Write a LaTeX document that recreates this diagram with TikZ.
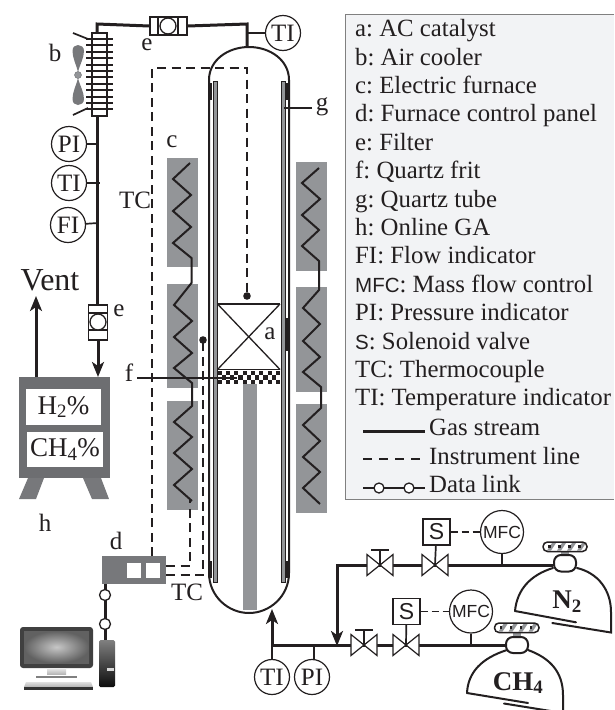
\documentclass[tikz,border=0pt]{standalone}
\usepackage{fontspec}
\setmainfont{Liberation Serif}
\setsansfont{Liberation Sans}
\usetikzlibrary{arrows.meta,calc}
\definecolor{blockgray}{HTML}{939598}
\definecolor{boxgray}{HTML}{6D6E71}
\definecolor{panelgray}{HTML}{77787B}
\definecolor{ink}{HTML}{231F20}
\definecolor{legendbg}{HTML}{F2F3F5}
\newcommand{\fs}[1]{\fontsize{#1}{#1}\selectfont}
\frenchspacing
\tikzset{
  every node/.style={text=ink},
  pipe/.style={line width=3pt,draw=ink},
  thinpipe/.style={line width=1.7pt,draw=ink},
  inst/.style={line width=2.1pt,draw=ink,dash pattern=on 9pt off 5.5pt},
  shortinst/.style={line width=1.7pt,draw=ink,dash pattern=on 7pt off 4pt},
  arrowed/.style={-{Stealth[length=15pt,width=12pt,inset=4pt]}},
  instr/.style={circle,draw=ink,fill=white,line width=1.2pt,minimum size=35pt,inner sep=0pt,font=\fs{25}},
  mfcnode/.style={circle,draw=ink,fill=white,line width=1.2pt,minimum size=43pt,inner sep=0pt,font=\sffamily\fs{17.5}},
  sbox/.style={rectangle,draw=ink,fill=white,line width=1.2pt,minimum width=27pt,minimum height=26pt,inner sep=0pt,font=\sffamily\fs{23}},
  lbl/.style={inner sep=0pt,font=\fs{25}},
  block/.style={fill=blockgray},
  coil/.style={line width=2pt,draw=ink,line join=miter},
  valve/.style={line width=1.2pt,draw=ink,fill=white},
  link/.style={circle,draw=ink,fill=white,line width=1.3pt,minimum size=11pt,inner sep=0pt},
  legtxt/.style={anchor=base west,inner sep=0pt,font=\fs{24.8}},
  bottle/.style={line width=2pt,draw=ink,line cap=round}
}
\begin{document}
\begin{tikzpicture}[x=1pt,y=-1pt]
\useasboundingbox (0,0) rectangle (614,710);
\fill[white] (0,0) rectangle (614,710);

% ---- legend
\fill[legendbg] (345,14) rectangle (614,499);
\draw[draw=gray,line width=1pt] (614,14) -- (345,14) -- (345,499) -- (614,499);
\foreach \t [count=\i from 0] in {
 {a: AC catalyst},{b: Air cooler},{c: Electric furnace},{d: Furnace control panel},
 {e: Filter},{f: Quartz frit},{g: Quartz tube},{h: Online GA},{FI: Flow indicator},
 {{\sffamily\fs{20.5}MFC}: Mass flow control},{PI: Pressure indicator},
 {{\sffamily\fs{20.5}S}: Solenoid valve},{TC: Thermocouple},{TI: Temperature indicator}}
  {\node[legtxt] (leg\i) at (355,{36.7+28.4*\i}) {\t};}
\node[legtxt] (leggas) at (429,435.7) {Gas stream};
\node[legtxt] (leginst) at (429,464.1) {Instrument line};
\node[legtxt] (legdata) at (429,492.5) {Data link};
\coordinate (lg1) at (363,431); \coordinate (lg2) at (425,431);
\draw[line width=3pt,draw=ink] (lg1) -- (lg2);
\coordinate (li1) at (363,459); \coordinate (li2) at (422,459);
\draw[line width=1.7pt,draw=ink,dash pattern=on 9pt off 7pt] (li1) -- (li2);
\coordinate (ld1) at (363,488); \coordinate (ld2) at (425,488);
\draw[line width=1.5pt,draw=ink] (ld1) -- (ld2);
\node[link,minimum size=10pt] at (379,488) {};
\node[link,minimum size=10pt] at (409,488) {};

% ---- furnace blocks
\foreach \x/\ya/\yb in {167/158/267,167/284/388,167/401/510,296/162/271,296/287/392,296/404/513}
  {\fill[block] (\x,\ya) rectangle (\x+31,\yb);}
\draw[coil] (190,163)--(173,179)--(191,195)--(173,211)--(191,227)--(173,243)--(191.5,258)--(191.5,283)
  --(174,305)--(192,321)--(174,337)--(192,353)--(174,368)--(192,383)--(192,406)--(174,422)--(192,437)
  --(174,453)--(192,469)--(174,485)--(192,501);
\draw[coil] (319,168)--(302,183)--(320,199)--(302,215)--(319,230)--(302,246)--(319,261)--(319,290)
  --(303,308)--(320,324)--(303,341)--(320,357)--(303,372)--(321,387)--(321,408)--(303,425)--(320,441)
  --(303,457)--(320,472)--(303,488)--(320,504);

% ---- reactor
\fill[block] (243,384) rectangle (257,610);
\draw[line width=2pt,draw=ink] (209,573) -- (209,80)
  .. controls (209,60) and (228,47) .. (249,47)
  .. controls (270,47) and (289,60) .. (289,80) -- (289,573)
  .. controls (289,596) and (270,613) .. (249,613)
  .. controls (228,613) and (209,596) .. (209,573) -- cycle;
\foreach \x in {213,281}
  {\filldraw[fill=blockgray,draw=ink,line width=.8pt] (\x,81) rectangle (\x+4.4,582);}
\foreach \x/\ya/\yb in {211/83/100,287/83/100,211/561/578,287/561/578,287.5/318/351}
  {\draw[line width=2.8pt,draw=ink] (\x,\ya) -- (\x,\yb);}
% catalyst bed
\draw[line width=1.9pt,draw=ink] (217.5,304) -- (280,304);
\draw[line width=1.9pt,draw=ink] (217.5,369.5) -- (280,369.5);
\draw[line width=1.3pt,draw=ink] (217.5,304) -- (280,369.5) (280,304) -- (217.5,369.5);
% frit
\fill[white] (217.5,371) rectangle (280,384);
\foreach \r in {0,1,2}{
  \foreach \c in {0,...,14}{
    \pgfmathtruncatemacro{\m}{mod(\r+\c,2)}
    \ifnum\m=0
      \fill[ink] ({217.5+4.17*\c},{371+4.33*\r}) rectangle ({217.5+4.17*(\c+1)},{371+4.33*(\r+1)});
    \fi
  }
}

% ---- TC lines
\coordinate (dot1) at (247,296);
\coordinate (dot2) at (203,340);
\coordinate (tcEnd) at (190,500);
\node[rectangle,fill=panelgray,minimum width=64pt,minimum height=28pt,inner sep=0pt] (panel) at (134,570) {};
\fill[white] (127,563) rectangle (141,578);
\fill[white] (146,563) rectangle (160,578);
\draw[inst] (152,556) -- (152,68) -- (247,68) -- (dot1);
\draw[inst] (166,575) -- (203,575) -- (dot2);
\draw[inst] (166,566) -- (190,566) -- (tcEnd);
\fill[ink] (dot1) circle (3.8pt);
\fill[ink] (dot2) circle (3.8pt);

% ---- outlet pipe, cooler
\node[rectangle,draw=ink,fill=white,line width=1.4pt,minimum width=37pt,minimum height=18pt,inner sep=0pt] (filt1) at (168.5,26) {};
\draw[line width=1.3pt,draw=ink] (158,17) -- (158,35) (178,17) -- (178,35);
\node[circle,draw=ink,fill=white,line width=1.3pt,minimum size=16pt,inner sep=0pt] (filt1c) at (168,26) {};
\coordinate (top) at (247,47);
\coordinate (teeT) at (247,33);
\node[rectangle,draw=ink,fill=white,line width=1.5pt,minimum width=15pt,minimum height=83pt,inner sep=0pt] (cooler) at (99.5,74.5) {};
\draw[pipe] (97,33) -- (97,24) -- (filt1.west);
\draw[pipe] (filt1.east) -- (247,24) -- (top);
\node[instr] (tiA) at (283,33) {TI};
\draw[thinpipe] (teeT) -- (tiA);
\foreach \k in {0,...,11}
  {\draw[line width=2pt,draw=ink] (86,{39+6.4*\k}) -- (113,{39+6.4*\k});}
\draw[line width=1.7pt,draw=ink] (73,33) -- (88,39) (73,115) -- (88,108);
% fan
\fill[panelgray] (78,72) .. controls (76,64) and (72.5,58) .. (72.5,51) .. controls (72.5,47) and (75,45) .. (78,45)
  .. controls (81,45) and (84,47) .. (84,51) .. controls (84,58) and (80,64) .. (78,72) -- cycle;
\fill[panelgray] (78,78) .. controls (76,86) and (72.5,92) .. (72.5,99) .. controls (72.5,103) and (75,105) .. (78,105)
  .. controls (81,105) and (84,103) .. (84,99) .. controls (84,92) and (80,86) .. (78,78) -- cycle;
\filldraw[fill=blockgray,draw=boxgray] (78,75) circle (3.5pt);

% ---- vertical line down, indicators
\node[rectangle,draw=ink,fill=white,line width=1.4pt,minimum width=19pt,minimum height=35pt,inner sep=0pt] (filt2) at (98,322.5) {};
\draw[line width=1.3pt,draw=ink] (89,313) -- (108,313) (89,330) -- (108,330);
\node[circle,draw=ink,fill=white,line width=1.3pt,minimum size=16pt,inner sep=0pt] at (98,322) {};
\draw[pipe] (97.5,116.5) -- (97.5,305);
\node[rectangle,fill=boxgray,minimum width=91pt,minimum height=101pt,inner sep=0pt] (ga) at (64.5,427.5) {};
\fill[white] (26,389) rectangle (101,425);
\fill[white] (27,432) rectangle (103,467);
\node[inner sep=0pt,font=\fs{27}] (h2) at (63.5,407) {H\textsubscript{2}\%};
\node[inner sep=0pt,font=\fs{27}] (ch4p) at (65,449.5) {CH\textsubscript{4}\%};
\fill[panelgray] (28,478) -- (44,478) -- (36,499) -- (19,499) -- cycle;
\fill[panelgray] (83,478) -- (101,478) -- (109,499) -- (92,499) -- cycle;
\draw[pipe,arrowed] (filt2.south) -- (98,377);
\draw[pipe,arrowed] (36,377) -- (36,296);
\node[inner sep=0pt,font=\fs{32}] (vent) at (50,280) {Vent};
\node[instr] (piA) at (69,144) {PI};
\node[instr] (tiB) at (69,183) {TI};
\node[instr] (fiA) at (68,225) {FI};
\draw[thinpipe] (piA) -- (98,144);
\draw[thinpipe] (tiB) -- (100,183);
\draw[thinpipe] (fiA) -- (98,223);

% ---- labels
\node[lbl] (lb) at (55,53) {b};
\node[lbl] (le1) at (147,45) {e};
\node[lbl] (lg) at (322,107) {g};
\coordinate (gtip) at (284,108);
\coordinate (gstart) at (312,108);
\draw[line width=1.1pt,draw=ink] (gstart) -- (gtip);
\node[lbl] (lc) at (172,142) {c};
\node[lbl] (ltc1) at (135,200) {TC};
\node[lbl] (le2) at (119,311) {e};
\node[lbl] (lf) at (129,373) {f};
\coordinate (ftip) at (237,378);
\coordinate (fstart) at (137,378);
\draw[line width=1.1pt,draw=ink] (fstart) -- (ftip);
\node[lbl] (la) at (270,334) {a};
\node[lbl] (ltc2) at (187,592) {TC};
\node[lbl] (lh) at (45,523) {h};
\node[lbl] (ld) at (116,541) {d};

% ---- computer
\fill[black!75,rounded corners=3pt] (20,627) rectangle (93,668);
\shade[inner color=black!22,outer color=black!62] (24,631) rectangle (89,663);
\shade[top color=black!8,bottom color=black!28] (47,668) rectangle (66,674);
\fill[black!50] (36,675.5) rectangle (77,678);
\shade[top color=black!12,bottom color=black!30] (26,682) -- (91,682) -- (93,687) -- (24,687) -- cycle;
\fill[black!80] (24,687) rectangle (93,689.5);
\shade[top color=black!50,bottom color=black!95,rounded corners=1.5pt] (99,640) rectangle (115,687);
\fill[black!15] (107,668) rectangle (114,671);

\coordinate (pcTop) at (105,640);
\draw[line width=3pt,draw=ink] (panel.south -| pcTop) -- (pcTop);
\node[link] (lk1) at (105,595) {};
\node[link] (lk2) at (105,624) {};

% ---- gas feed
\coordinate (vA) at (364,645);
\coordinate (vB) at (406,645);
\coordinate (vC) at (380,565);
\coordinate (vD) at (435,565);
\coordinate (inlet) at (272,609);
\coordinate (teeIn) at (272,645);
\draw[pipe] (271,645) -- (507,645);
\draw[pipe,arrowed] (teeIn) -- (inlet);
\draw[pipe] (553,565) -- (337,565) -- (337,632);
\draw[pipe,arrowed] (337,620) -- (337,646);
\node[instr] (tiC) at (272,677) {TI};
\node[instr] (piB) at (312,677) {PI};
\draw[thinpipe] (teeIn) -- (tiC);
\draw[thinpipe] (314,645) -- (314,660);

\foreach \v in {vA,vB,vC,vD}
  {\draw[valve,shift={(\v)}] (-13,-10.5) -- (13,10.5) -- (13,-10.5) -- (-13,10.5) -- cycle;}
\draw[thinpipe] (vA) -- (364,630) ++(-9,0) -- ++(18,0);
\draw[thinpipe] (vC) -- (380,550) ++(-9,0) -- ++(18,0);
\node[sbox] (sA) at (406.5,611.5) {S};
\node[sbox] (sB) at (436.5,532) {S};
\draw[thinpipe] (vB) -- (sA);
\draw[thinpipe] (vD) -- (sB);
\node[mfcnode] (mfcA) at (471,611.5) {MFC};
\node[mfcnode] (mfcB) at (502,532) {MFC};
\draw[shortinst] (sA) -- (mfcA);
\draw[shortinst] (sB) -- (mfcB);
\draw[thinpipe] (mfcA) -- (471,645);
\draw[thinpipe] (mfcB) -- (502,565);

% ---- cylinders
\draw[bottle] (515,611) .. controls (517,590) and (530,575) .. (553,568) (577,568)
  .. controls (598,573) and (611,590) .. (611,612) -- (611,632.5) -- (552.3,623);
\draw[bottle] (515,611) -- (576,622.3);
\fill[blockgray] (561,551) rectangle (569,556);
\filldraw[fill=white,draw=ink,line width=2pt,rounded corners=7pt] (554,555) rectangle (576,571.5);
\node[inner sep=0pt,font=\bfseries\fs{27}] (n2) at (567,602) {N\textsubscript{2}};
\begin{scope}
\clip (400,600) rectangle (614,710);
\draw[bottle] (467,693) .. controls (468,672) and (482,658) .. (507,650) (528,650)
  .. controls (550,658) and (563,672) .. (563,695) -- (563,713) -- (504,703.5);
\draw[bottle] (467,693) -- (528,703);
\fill[blockgray] (513,632) rectangle (521,638);
\filldraw[fill=white,draw=ink,line width=2pt,rounded corners=7pt] (506,637) rectangle (528,653);
\node[inner sep=0pt,font=\bfseries\fs{27}] (ch4) at (518,683) {CH\textsubscript{4}};
\end{scope}
% handles
\foreach \xa/\xb/\ya/\yb in {543/587/542/551.5,494.5/539/623/632.5}{
  \begin{scope}
    \clip[rounded corners=4.5pt] (\xa,\ya) rectangle (\xb,\yb);
    \fill[white] (\xa,\ya) rectangle (\xb,\yb);
    \foreach \k in {0,1,2,3}
      {\fill[blockgray] ({\xa+4+10*\k},\yb-1) -- ++(4,0) -- ++(5,-7.5) -- ++(-4,0) -- cycle;
       \fill[ink] ({\xa+5+10*\k},\yb-3.5) rectangle ++(2.6,-2.6);}
  \end{scope}
  \draw[line width=1.5pt,draw=ink,rounded corners=4.5pt] (\xa,\ya) rectangle (\xb,\yb);
}
\end{tikzpicture}
\end{document}
